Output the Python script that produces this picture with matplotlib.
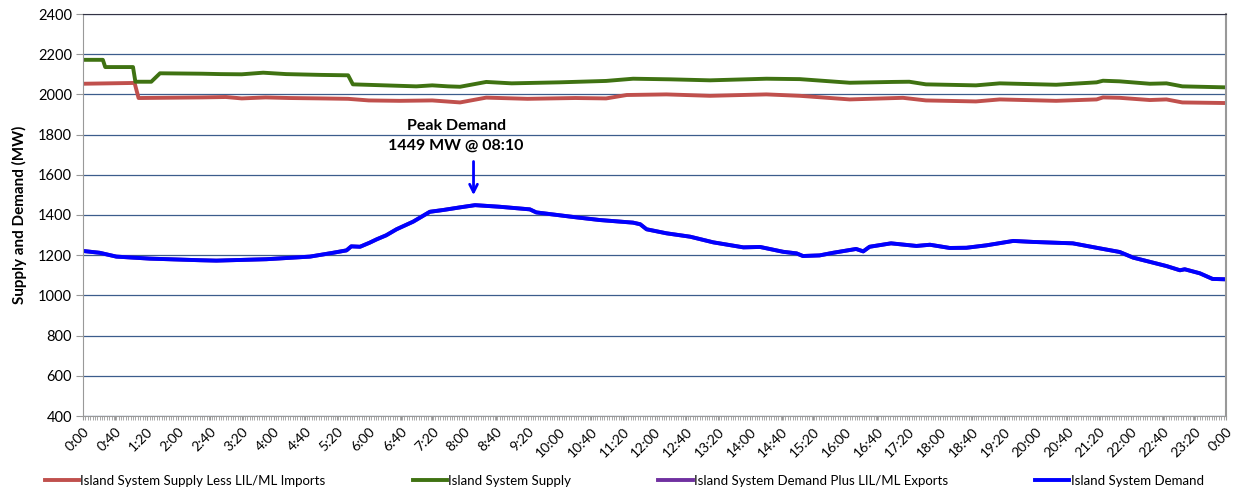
import matplotlib
matplotlib.use("Agg")
import matplotlib.pyplot as plt
from matplotlib.ticker import MultipleLocator, FixedLocator

# ---- data (minutes after midnight, MW) ----
supply_t = [0, 25, 28, 63, 66, 86, 97, 150, 173, 200, 227, 256, 300, 334, 340, 380,
            420, 440, 460, 475, 508, 540, 600, 659, 693, 740, 790, 861, 903, 966,
            1020, 1041, 1062, 1125, 1155, 1226, 1277, 1285, 1306, 1344, 1365, 1385, 1440]
supply = [2172, 2172, 2136, 2136, 2063, 2063, 2105, 2103, 2101, 2100, 2108, 2101, 2097,
          2095, 2050, 2045, 2040, 2045, 2040, 2038, 2062, 2055, 2060, 2067, 2078, 2075,
          2070, 2078, 2076, 2058, 2062, 2063, 2050, 2045, 2055, 2048, 2060, 2068, 2065,
          2053, 2055, 2040, 2035]

less_imports_t = [0, 65, 70, 150, 180, 200, 230, 260, 300, 334, 360, 399, 440, 475, 508,
                  560, 620, 659, 685, 735, 790, 861, 903, 966, 1033, 1062, 1125, 1155,
                  1226, 1277, 1285, 1306, 1344, 1365, 1385, 1440]
less_imports = [2053, 2057, 1982, 1985, 1987, 1980, 1985, 1982, 1980, 1978, 1970, 1968,
                1970, 1960, 1984, 1978, 1982, 1980, 1997, 2000, 1993, 2000, 1993, 1975,
                1983, 1970, 1965, 1975, 1968, 1975, 1985, 1983, 1972, 1975, 1960, 1957]

demand_t = [0, 21, 42, 84, 147, 168, 231, 286, 315, 332, 338, 349, 361, 370, 382, 395,
            416, 437, 454, 475, 494, 525, 563, 571, 618, 651, 693, 702, 710, 735, 765,
            794, 832, 853, 882, 899, 907, 928, 945, 974, 983, 991, 1018, 1050, 1067,
            1092, 1113, 1138, 1172, 1197, 1247, 1281, 1306, 1323, 1340, 1365, 1382,
            1388, 1407, 1423, 1440]
demand = [1221, 1212, 1193, 1183, 1175, 1173, 1180, 1193, 1212, 1224, 1244, 1242, 1262,
          1279, 1299, 1329, 1367, 1416, 1425, 1438, 1449, 1441, 1428, 1413, 1390, 1375,
          1362, 1354, 1329, 1309, 1292, 1264, 1239, 1241, 1217, 1209, 1196, 1199, 1212,
          1231, 1219, 1242, 1259, 1246, 1252, 1236, 1237, 1249, 1271, 1266, 1259, 1234,
          1216, 1188, 1171, 1146, 1125, 1130, 1110, 1082, 1080]

# demand plus LIL/ML exports (no exports -> identical to demand)
demand_plus_exports_t = list(demand_t)
demand_plus_exports = list(demand)

tick_minutes = list(range(0, 1441, 40))
tick_labels = [f"{(m // 60) % 24}:{m % 60:02d}" for m in tick_minutes]

peak_time = 492
peak_value = 1449

# ---- figure ----
plt.rcParams['font.family'] = ['Lato', 'DejaVu Sans']
fig = plt.figure(figsize=(12.36, 4.93), dpi=100)
ax = fig.add_axes([83 / 1236, 1 - 416 / 493, (1226 - 83) / 1236, (416 - 14) / 493])

ax.plot(less_imports_t, less_imports, color='#c0504d', lw=2.8,
        label='Island System Supply Less LIL/ML Imports', solid_joinstyle='round')
ax.plot(supply_t, supply, color='#3f7212', lw=2.8,
        label='Island System Supply', solid_joinstyle='round')
ax.plot(demand_plus_exports_t, demand_plus_exports, color='#7030a0', lw=2.8,
        label='Island System Demand Plus LIL/ML Exports', solid_joinstyle='round')
ax.plot(demand_t, demand, color='#0000ff', lw=2.8,
        label='Island System Demand', solid_joinstyle='round')

ax.set_xlim(0, 1440)
ax.set_ylim(400, 2400)
ax.yaxis.set_major_locator(MultipleLocator(200))
ax.grid(axis='y', color='#3c5c8c', lw=0.9)
ax.set_axisbelow(True)

ax.xaxis.set_major_locator(FixedLocator(tick_minutes))
ax.set_xticklabels(tick_labels, rotation=45, ha='right', rotation_mode='anchor', fontsize=10)
ax.xaxis.set_minor_locator(MultipleLocator(3))
ax.tick_params(axis='x', which='both', length=3, color='#999999', pad=4)
ax.tick_params(axis='y', length=5, color='#999999', labelsize=10.5, pad=3)

for s in ['left', 'bottom', 'right']:
    ax.spines[s].set_color('#999999')
ax.spines['right'].set_linewidth(1.5)
ax.spines['top'].set_color('#333344')

ax.set_ylabel('Supply and Demand (MW)', fontsize=11, fontweight='bold', labelpad=8)

ax.text(peak_time - 22, 1843, 'Peak Demand', ha='center', va='center',
        fontsize=11.5, fontweight='bold')
ax.text(peak_time - 22, 1743, f'{peak_value} MW @ 08:10', ha='center', va='center',
        fontsize=11.5, fontweight='bold')
ax.annotate('', xy=(peak_time, peak_value + 36), xytext=(peak_time, 1680),
            arrowprops=dict(arrowstyle='->', color='#0000ff', lw=2, mutation_scale=14))

leg = fig.legend(loc='lower center', ncol=4, frameon=False, fontsize=9.5,
                 bbox_to_anchor=(0.505, -0.012), handlelength=2.6, handletextpad=0.1,
                 columnspacing=6.6)

fig.savefig('out.png', dpi=100)
